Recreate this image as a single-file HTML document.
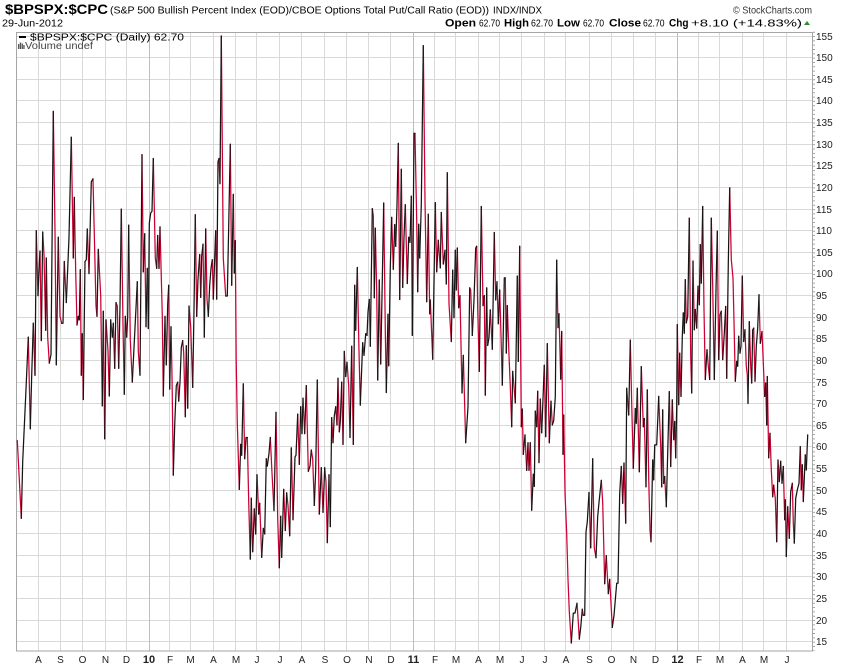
<!DOCTYPE html>
<html>
<head>
<meta charset="utf-8">
<style>
html,body{margin:0;padding:0;background:#fff;}
svg{display:block;}
text{font-family:"Liberation Sans",Arial,sans-serif;}
</style>
</head>
<body>
<svg id="c" width="850" height="668" viewBox="0 0 850 668" xmlns="http://www.w3.org/2000/svg">
<rect x="0" y="0" width="850" height="668" fill="#fff"/>

<!-- Header -->
<text x="5" y="14" font-size="13.5" font-weight="bold" fill="#000" textLength="103" lengthAdjust="spacingAndGlyphs">$BPSPX:$CPC</text>
<text x="110" y="13.5" font-size="10.5" fill="#000" textLength="379" lengthAdjust="spacingAndGlyphs">(S&amp;P 500 Bullish Percent Index (EOD)/CBOE Options Total Put/Call Ratio (EOD))</text>
<text x="493" y="13.5" font-size="10" fill="#000" textLength="49" lengthAdjust="spacingAndGlyphs">INDX/INDX</text>
<text x="733" y="13.5" font-size="10.5" fill="#333" textLength="79" lengthAdjust="spacingAndGlyphs">© StockCharts.com</text>
<text x="2" y="26.5" font-size="10.5" fill="#000" textLength="61" lengthAdjust="spacingAndGlyphs">29-Jun-2012</text>

<g font-size="10.5" fill="#000">
<text x="445" y="26.5" font-weight="bold" font-size="11" textLength="31" lengthAdjust="spacingAndGlyphs">Open</text>
<text x="479" y="26.5" textLength="21" lengthAdjust="spacingAndGlyphs">62.70</text>
<text x="504" y="26.5" font-weight="bold" font-size="11" textLength="25" lengthAdjust="spacingAndGlyphs">High</text>
<text x="531" y="26.5" textLength="22" lengthAdjust="spacingAndGlyphs">62.70</text>
<text x="557" y="26.5" font-weight="bold" font-size="11" textLength="23" lengthAdjust="spacingAndGlyphs">Low</text>
<text x="583" y="26.5" textLength="21" lengthAdjust="spacingAndGlyphs">62.70</text>
<text x="609" y="26.5" font-weight="bold" font-size="11" textLength="32" lengthAdjust="spacingAndGlyphs">Close</text>
<text x="643" y="26.5" textLength="21.5" lengthAdjust="spacingAndGlyphs">62.70</text>
<text x="669" y="26.5" font-weight="bold" font-size="11" textLength="19.5" lengthAdjust="spacingAndGlyphs">Chg</text>
<text x="691" y="26.5" textLength="111" lengthAdjust="spacingAndGlyphs">+8.10 (+14.83%)</text>
</g>
<polygon points="804,25 810,25 807,21" fill="#2e8b2e"/>

<!-- Grid -->
<g stroke="#d9d9d9" stroke-width="1" shape-rendering="crispEdges">
<line x1="16" x2="812" y1="641.5" y2="641.5"/>
<line x1="16" x2="812" y1="620.5" y2="620.5"/>
<line x1="16" x2="812" y1="598.5" y2="598.5"/>
<line x1="16" x2="812" y1="576.5" y2="576.5"/>
<line x1="16" x2="812" y1="555.5" y2="555.5"/>
<line x1="16" x2="812" y1="533.5" y2="533.5"/>
<line x1="16" x2="812" y1="511.5" y2="511.5"/>
<line x1="16" x2="812" y1="490.5" y2="490.5"/>
<line x1="16" x2="812" y1="468.5" y2="468.5"/>
<line x1="16" x2="812" y1="446.5" y2="446.5"/>
<line x1="16" x2="812" y1="425.5" y2="425.5"/>
<line x1="16" x2="812" y1="403.5" y2="403.5"/>
<line x1="16" x2="812" y1="382.5" y2="382.5"/>
<line x1="16" x2="812" y1="360.5" y2="360.5"/>
<line x1="16" x2="812" y1="338.5" y2="338.5"/>
<line x1="16" x2="812" y1="317.5" y2="317.5"/>
<line x1="16" x2="812" y1="295.5" y2="295.5"/>
<line x1="16" x2="812" y1="273.5" y2="273.5"/>
<line x1="16" x2="812" y1="252.5" y2="252.5"/>
<line x1="16" x2="812" y1="230.5" y2="230.5"/>
<line x1="16" x2="812" y1="209.5" y2="209.5"/>
<line x1="16" x2="812" y1="187.5" y2="187.5"/>
<line x1="16" x2="812" y1="165.5" y2="165.5"/>
<line x1="16" x2="812" y1="144.5" y2="144.5"/>
<line x1="16" x2="812" y1="122.5" y2="122.5"/>
<line x1="16" x2="812" y1="100.5" y2="100.5"/>
<line x1="16" x2="812" y1="79.5" y2="79.5"/>
<line x1="16" x2="812" y1="57.5" y2="57.5"/>
<line x1="16" x2="812" y1="36.5" y2="36.5"/>

<line y1="32" y2="651" x1="38.5" x2="38.5"/>
<line y1="32" y2="651" x1="60.5" x2="60.5"/>
<line y1="32" y2="651" x1="82.5" x2="82.5"/>
<line y1="32" y2="651" x1="105.5" x2="105.5"/>
<line y1="32" y2="651" x1="126.5" x2="126.5"/>
<line y1="32" y2="651" x1="169.5" x2="169.5"/>
<line y1="32" y2="651" x1="190.5" x2="190.5"/>
<line y1="32" y2="651" x1="213.5" x2="213.5"/>
<line y1="32" y2="651" x1="235.5" x2="235.5"/>
<line y1="32" y2="651" x1="256.5" x2="256.5"/>
<line y1="32" y2="651" x1="279.5" x2="279.5"/>
<line y1="32" y2="651" x1="301.5" x2="301.5"/>
<line y1="32" y2="651" x1="324.5" x2="324.5"/>
<line y1="32" y2="651" x1="346.5" x2="346.5"/>
<line y1="32" y2="651" x1="368.5" x2="368.5"/>
<line y1="32" y2="651" x1="390.5" x2="390.5"/>
<line y1="32" y2="651" x1="434.5" x2="434.5"/>
<line y1="32" y2="651" x1="455.5" x2="455.5"/>
<line y1="32" y2="651" x1="478.5" x2="478.5"/>
<line y1="32" y2="651" x1="499.5" x2="499.5"/>
<line y1="32" y2="651" x1="521.5" x2="521.5"/>
<line y1="32" y2="651" x1="544.5" x2="544.5"/>
<line y1="32" y2="651" x1="565.5" x2="565.5"/>
<line y1="32" y2="651" x1="589.5" x2="589.5"/>
<line y1="32" y2="651" x1="611.5" x2="611.5"/>
<line y1="32" y2="651" x1="633.5" x2="633.5"/>
<line y1="32" y2="651" x1="655.5" x2="655.5"/>
<line y1="32" y2="651" x1="698.5" x2="698.5"/>
<line y1="32" y2="651" x1="719.5" x2="719.5"/>
<line y1="32" y2="651" x1="742.5" x2="742.5"/>
<line y1="32" y2="651" x1="763.5" x2="763.5"/>
<line y1="32" y2="651" x1="786.5" x2="786.5"/>
</g>
<g stroke="#bdbdbd" stroke-width="1" shape-rendering="crispEdges">
<line y1="32" y2="651" x1="149.5" x2="149.5"/>
<line y1="32" y2="651" x1="413.5" x2="413.5"/>
<line y1="32" y2="651" x1="677.5" x2="677.5"/>
</g>

<!-- Plot border -->
<rect x="16.5" y="32.5" width="796" height="618.5" fill="none" stroke="#a6a6a6" stroke-width="1" shape-rendering="crispEdges"/>
<!-- right axis minor ticks -->
<line x1="814" x2="814" y1="31.7" y2="651" stroke="#a6a6a6" stroke-width="2" stroke-dasharray="1 3.326"/>

<!-- Right axis labels -->
<g font-size="10" fill="#222">
<text x="816" y="645">15</text>
<text x="816" y="624">20</text>
<text x="816" y="602">25</text>
<text x="816" y="580">30</text>
<text x="816" y="559">35</text>
<text x="816" y="537">40</text>
<text x="816" y="515">45</text>
<text x="816" y="494">50</text>
<text x="816" y="472">55</text>
<text x="816" y="450">60</text>
<text x="816" y="429">65</text>
<text x="816" y="407">70</text>
<text x="816" y="386">75</text>
<text x="816" y="364">80</text>
<text x="816" y="342">85</text>
<text x="816" y="321">90</text>
<text x="816" y="299">95</text>
<text x="816" y="277">100</text>
<text x="816" y="256">105</text>
<text x="816" y="234">110</text>
<text x="816" y="213">115</text>
<text x="816" y="191">120</text>
<text x="816" y="169">125</text>
<text x="816" y="148">130</text>
<text x="816" y="126">135</text>
<text x="816" y="104">140</text>
<text x="816" y="83">145</text>
<text x="816" y="61">150</text>
<text x="816" y="40">155</text>
</g>

<!-- X axis labels -->
<g font-size="10" fill="#222" text-anchor="middle">
<text x="38.5" y="663">A</text>
<text x="60.5" y="663">S</text>
<text x="82.5" y="663">O</text>
<text x="105.5" y="663">N</text>
<text x="126.5" y="663">D</text>
<text x="149" y="663" font-weight="bold" font-size="11">10</text>
<text x="170" y="663">F</text>
<text x="190.5" y="663">M</text>
<text x="213.5" y="663">A</text>
<text x="236" y="663">M</text>
<text x="257" y="663">J</text>
<text x="280" y="663">J</text>
<text x="302" y="663">A</text>
<text x="325" y="663">S</text>
<text x="347" y="663">O</text>
<text x="369" y="663">N</text>
<text x="391" y="663">D</text>
<text x="413.5" y="663" font-weight="bold" font-size="11">11</text>
<text x="435" y="663">F</text>
<text x="456" y="663">M</text>
<text x="478.5" y="663">A</text>
<text x="500" y="663">M</text>
<text x="522" y="663">J</text>
<text x="545" y="663">J</text>
<text x="566" y="663">A</text>
<text x="589.5" y="663">S</text>
<text x="611.5" y="663">O</text>
<text x="633.5" y="663">N</text>
<text x="655.5" y="663">D</text>
<text x="677.5" y="663" font-weight="bold" font-size="11">12</text>
<text x="699" y="663">F</text>
<text x="720" y="663">M</text>
<text x="742.5" y="663">A</text>
<text x="764" y="663">M</text>
<text x="787" y="663">J</text>
</g>

<!-- Series -->
<path id="dn" d="" fill="none" stroke="#cc0033" stroke-width="1.25" stroke-linecap="round" stroke-linejoin="round"/>
<path id="up" d="" fill="none" stroke="#151515" stroke-width="1.25" stroke-linecap="round" stroke-linejoin="round"/>

<!-- Legend -->
<rect x="19" y="36" width="7" height="2" fill="#000"/>
<text x="30" y="40.5" font-size="10.5" fill="#000" font-family="DejaVu Sans, Liberation Sans, sans-serif" textLength="154" lengthAdjust="spacingAndGlyphs">$BPSPX:$CPC (Daily) 62.70</text>
<g fill="#555">
<rect x="18" y="44" width="1.3" height="5"/>
<rect x="19.8" y="42.5" width="1.3" height="6.5"/>
<rect x="21.6" y="43.5" width="1.3" height="5.5"/>
<rect x="23.3" y="45" width="1.3" height="4"/>
</g>
<text x="25" y="49" font-size="10" fill="#444" textLength="68" lengthAdjust="spacingAndGlyphs">Volume undef</text>
</svg>

<script>
(function(){
var d=[
17.3,61.5,21.3,43.5,22.7,56.7,25.7,71.8,28.3,85.4,30.3,64.2,31.7,76.6,33.3,88.6,35,76.6,36.3,110,38,95,38.7,99.7,40,105.3,41.3,84.6,42.7,109.7,44,104.5,45.7,87,46.3,103.7,47.7,85.4,49.3,79.4,51,81.4,53.3,137.6,55,110,56.3,79,58.3,108.5,60,90.2,61.7,88.6,63,88.6,64.3,102.9,66.3,93.4,69,108.5,71.3,131.6,73.3,103.7,74.3,117.7,75.7,100.5,77,88.2,78.3,90.2,79.3,89.4,80.3,101,81.3,76.6,82.3,86.2,83.3,71,85,102.9,86.3,103.3,87.3,110.4,89,100.1,91.3,121.3,93,122,94.7,105.3,96,92.6,97,90.2,98.3,105.7,100.7,95,102.3,69.5,103.3,91.4,104.7,61.9,106,89.4,108,82.2,109.3,71.8,110.7,89.4,112.3,85.4,113.3,88.6,114.7,78.2,116,93.4,117.3,92.6,118.7,78.2,120,92.6,121.3,115,123,88.2,124.3,72.2,125.3,90.2,126.7,85.4,127.7,90.2,128.7,111.3,130.3,84.6,132.3,75,134.7,86.2,137.3,98.2,138.3,82.2,140,76.6,142,127.6,143.3,100.5,144.7,109.3,146,87.8,147.3,101.3,148.3,87.4,149.3,111.7,150.7,114.1,152,114.5,153.3,126.7,155.3,103.7,156.7,101.3,157.7,108.9,159,101.3,160,110.9,162.3,90.2,163.3,71.8,165,90.2,166.3,79,167.7,93,168.7,97.4,169.7,73.4,171,87.8,172,76.6,173.3,53.5,174.7,65.1,176.3,74.2,177.7,75,178.7,70.6,180,75,181.3,83,182.7,84.6,183.7,81.8,185.3,67,186.3,83.4,187.7,69,189,92.6,190.7,87.8,192.7,73.8,194,91.8,195.3,113.7,196.7,90.2,198,98.9,199.7,104.5,200.7,94.6,201.7,104.1,203,106.9,204.3,85.4,205.7,110.4,207,94.2,208.3,90.2,209.7,97.4,211,101.3,212.3,103.3,213.3,94.2,214.7,103.7,215.7,110,216.7,94.2,218,126,219,126.7,220,120.9,221.3,155,223.3,103.6,225.7,94.9,227.3,94.9,228.7,111,230.3,130,231.7,97.4,233.3,118.4,234.3,100.2,235.3,107.7,236.2,80,237.3,65.5,239.3,50.2,240.7,60.6,241.7,58.1,243.3,74.6,244.7,57.3,246,62.2,247.3,62.2,248.7,47.4,250.3,34.1,251.3,48.2,252.7,35.8,254.3,45.7,255.7,39.9,257,53.6,258.7,44.5,259.7,47,261.7,34.5,263.3,41.2,264.7,39.9,266.3,57.3,267.3,55.6,269,58.5,270.3,62.2,272,54,274,45.3,276,68,277.7,43.6,279.3,32.1,280.7,44,281.7,34.5,283.7,50.2,285.3,40.7,286.7,49.4,288,46.5,289.7,39.5,291.3,59.8,293,43.2,295,57.7,296,58.1,297.7,67.6,299.3,56,300.7,69.3,302,63.1,303,71.3,304.7,63.1,306.3,74.2,308.3,54.4,310,55.6,311.3,59.3,312.7,57.3,314.3,46.5,315.7,54.8,317.3,75.5,319.3,44.5,321.3,55.2,323,44.9,324.7,55.2,326,51.9,327.3,37.9,329,53.6,330.3,41.6,331.7,66.8,333,61,334.3,67.2,335.7,69.3,337,65.1,338,75.9,339.3,63.5,340.3,65.9,341.7,75,343,60.6,344.3,82.1,345.7,76.3,347,79.6,348.7,74.2,350,62.2,351.7,83.3,353.3,60.6,354.7,97.4,355.7,87,357.3,101.5,359,82.1,360.3,69.7,362.7,84.1,364,81.2,365.7,86.2,367,85.8,368,91.2,369.3,94.1,370.3,83.3,372.3,115.1,373.3,113.5,374.3,94.5,375.3,110.6,376.7,96.1,377.7,75.5,379.3,98.6,380.7,79.2,382.3,98.6,383.7,116.4,385.3,87,386.3,72.6,388,90.7,388.7,78.8,390.3,101.5,391.7,113.1,393.3,101.1,394.7,111.4,395.7,106.4,397,116,398.3,130.2,399.7,94.1,401.3,124.2,402.7,96.9,404,108.5,405.3,116,407.3,97.8,408.7,108.5,410,107.3,411.3,118,412.3,85.8,414,132.5,415,132.5,416.7,112.4,417.7,95.9,418.7,111.5,419.7,103.7,421.3,116.1,423.3,152.8,425,117,426.7,93.6,428.3,113.8,429.7,90.8,430.3,94,432.7,80.3,435.3,116.5,436.7,100.5,438.3,107.8,440.3,101.4,441.3,114.2,443.3,102.3,445,105.5,446.3,97.7,447.3,123.4,449,93.1,451.3,84.4,452.7,100.9,454,89.9,455.3,105.5,456.3,96.3,457.3,106,458.7,92.2,460,95,462,72.5,463.3,81.2,465.7,61,468,69.3,469.7,96.8,470.7,96.3,472.3,85.8,474,94,475.7,106,476.7,106.4,477.7,92.2,479.3,77.5,481.3,115.6,483,92.7,484.3,95,485.3,72,486.7,96.8,487.7,83.5,489,85.3,490.3,91.7,492.3,82.6,494.3,109.6,495.7,94,497,98.2,498.3,88.5,499.7,96.3,501,85.8,502.3,74.3,504.3,99.1,505.3,99.1,506.3,81.7,507.3,92.7,509,81.2,510.3,73.9,511.7,64.7,512.7,77.5,513.7,74.8,515.3,70.2,517.3,99.5,518.3,79.8,519.7,106.4,521.3,64.7,522.3,68.8,523.3,58.3,525,62.8,526.7,54.6,528,61,529,54.6,530.3,61,531.7,45.4,533.3,53.7,534.3,50.9,535.3,68.3,536.7,64.7,537.7,72.9,539,56.4,540.3,71.1,541.7,63.3,543,71.1,544.3,78.9,545.7,62.4,547.3,83.9,549.3,61,551,70.6,552.3,65.1,553.7,66.1,555.3,71.6,556.7,103.2,558,87.6,559,90.8,560.7,75.7,561.7,86.7,563,58.3,563.7,67.4,565,49.5,566.7,39.9,568,29.4,569.3,22,571.3,14.7,573.3,21.6,575,21.6,577,23.9,578,20.6,579.3,15.6,580.7,18.3,582.3,22.5,583.3,21.1,584.7,21.1,586,40.4,587.3,42.7,589,49.5,590.7,36.7,592.7,57.3,594.3,36.7,596,34.4,597.7,44,599,47.2,601.3,52.3,602.7,47.2,604.7,28.4,606.3,34.9,608.3,26.1,609.7,29.4,612.3,18.3,614,21.1,616.7,28.5,618,28.5,619.7,49.3,621.3,55.5,622.7,47,624,56.3,625.7,42.4,626.7,73.6,628.7,67.4,630.3,84.7,631.7,70.1,633.3,55.1,635.3,68.9,636.3,65.5,637.3,73.6,639.3,54.3,641.3,78.6,643.3,64.7,644.3,66.6,646,50.8,647.3,73.2,648.7,52.8,650,40.8,651,38.1,652.7,57,653.7,52.4,654.7,60.5,656.7,60.5,658.7,71.7,660.7,60.1,661.7,50.8,662.7,68.6,663.7,51.6,664.7,53.2,666.3,46.2,667.7,58.6,669.3,72.8,670.7,55.5,672.3,70.9,673.7,61.7,674.7,65.9,675.7,57.5,676.7,69.4,677.3,88.3,678.7,69.8,679.7,81.7,681,71.7,682.3,85.6,683.3,91,684.3,86.3,685.3,98.7,686.3,88.7,687.7,90.2,689.3,112.9,690.7,81,691.7,72.5,693,103,694.3,87.1,695.3,91.8,696.7,87.5,698,97.2,699.3,92.9,700.3,106.8,701.3,97.9,702.7,115.6,704,91.8,705.3,75.6,707,82.5,708.3,78.7,709.7,75.6,711.3,112.9,712.7,97.2,714.3,75.6,716,96.4,717.3,109.9,718.7,80.2,720,90.6,721.3,91.4,722.7,80.2,724.3,86.3,725.7,92.5,726.7,75.9,728.3,102.5,729.7,119.9,731.3,103.3,733,99.1,734,89,735.3,75.2,736.7,79.8,737.7,78.7,738.7,85.6,740,81.7,741,83.3,742.3,99.5,743.7,84.4,745,87.1,746.3,78.7,747.3,76.7,748,70.1,749.3,89,750.7,78.7,751.7,74.8,752.7,87.1,753.7,87.5,755,75.2,756.3,83.3,757.7,87.5,759,95.2,760.3,84,762,86.7,763.3,79.4,764.7,71.7,765.7,74.8,766.7,65.1,767.3,76.3,768.7,57.5,770,63.2,771.3,54.7,772.7,48.5,773.7,51.2,775.3,48.1,776.7,38.1,778,57,779.3,52,780.7,56.7,782,51.6,783.3,55.5,784.7,43.2,785.3,47.8,786.3,34.7,787.7,46.2,789.3,38.9,790.7,49.7,792.3,51.6,793.3,42.4,794.3,37.8,795.7,48.1,797.3,50.1,799,51.6,800.3,60.1,801.3,50.1,802.3,55.9,803.3,47.4,805.3,58.2,806.3,54.7,807.7,62.8
];
function Y(v){return (706.59-4.326*v).toFixed(2);}
var up='',dn='';
for(var i=0;i+3<d.length;i+=2){
  var x1=d[i],v1=d[i+1],x2=d[i+2],v2=d[i+3];
  var s='M'+x1+' '+Y(v1)+'L'+x2+' '+Y(v2);
  if(v2>=v1) up+=s; else dn+=s;
}
document.getElementById('up').setAttribute('d',up);
document.getElementById('dn').setAttribute('d',dn);
})();
</script>
</body>
</html>
